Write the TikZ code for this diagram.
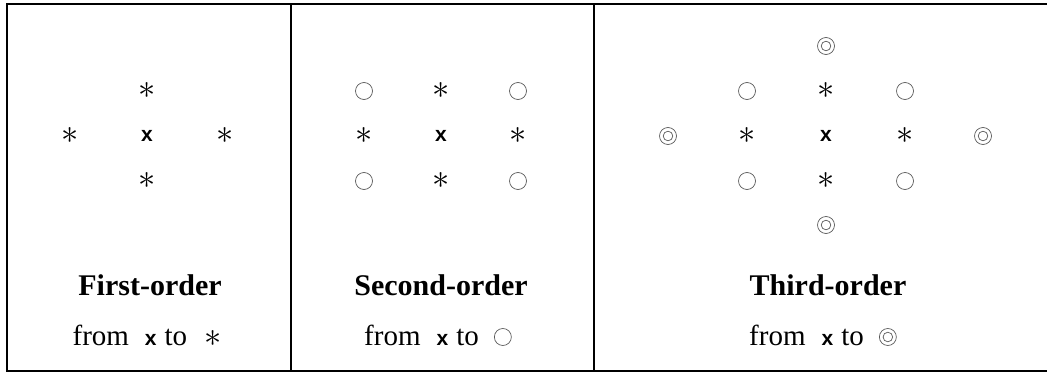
\documentclass[tikz,border=0pt]{standalone}
\usepackage{graphicx}
\usepackage{fontspec}
\setmainfont{Liberation Serif}
\newfontfamily\xsfont{Liberation Sans}
\newcommand{\xglyph}{{\xsfont\bfseries\fontsize{21}{21}\selectfont x}}
\newcommand{\astglyph}{\raisebox{-1.5pt}{\scalebox{1.38}{\fontsize{24}{24}\selectfont$\ast$}}}
\tikzset{
  frame/.style={line width=2pt, line cap=rect},
  sym/.style={inner sep=0pt, outer sep=0pt},
  astsym/.style={sym},
  xsym/.style={sym, font=\xsfont\bfseries\fontsize{21}{21}\selectfont},
  osym/.style={circle, draw=black!65, line width=0.7pt, minimum size=17pt, inner sep=0pt},
  oosym/.style={circle, draw=black!65, line width=0.7pt, minimum size=17pt, inner sep=0pt,
    append after command={\pgfextra{\draw[black!65, line width=0.7pt] (\tikzlastnode.center) circle[radius=4.8pt];}}},
  title/.style={font=\bfseries\fontsize{30}{32}\selectfont, anchor=base, inner sep=0pt},
  sub/.style={font=\fontsize{29}{31}\selectfont, anchor=base, inner sep=0pt},
}
\begin{document}
\begin{tikzpicture}[x=1pt,y=-1pt]
\useasboundingbox (0,0) rectangle (1047,372);
% frame
\coordinate (tl) at (7,3.5);
\coordinate (tr) at (1047,3.5);
\coordinate (bl) at (7,370.5);
\coordinate (br) at (1047,370.5);
\coordinate (d1t) at (291,3.5);
\coordinate (d1b) at (291,370.5);
\coordinate (d2t) at (594,3.5);
\coordinate (d2b) at (594,370.5);
\draw[frame] (tr) -- (tl) -- (bl) -- (br);
\draw[frame] (d1t) -- (d1b);
\draw[frame] (d2t) -- (d2b);

% column 1
\node[xsym] (c1x) at (147,136) {x};
\node[astsym] (c1n) at (147,91) {\astglyph};
\node[astsym] (c1s) at (147,181) {\astglyph};
\node[astsym] (c1w) at (70,136) {\astglyph};
\node[astsym] (c1e) at (225,136) {\astglyph};
\node[title] (t1) at (150,295) {First-order};
\node[sub] (s1) at (147,345) {from\hspace{16pt}\xglyph\hspace{8pt}to\hspace{17pt}\astglyph};

% column 2
\node[xsym] (c2x) at (441,136) {x};
\node[astsym] (c2n) at (441,91) {\astglyph};
\node[astsym] (c2s) at (441,181) {\astglyph};
\node[astsym] (c2w) at (364,136) {\astglyph};
\node[astsym] (c2e) at (518,136) {\astglyph};
\node[osym] (c2nw) at (364,91) {};
\node[osym] (c2ne) at (518,91) {};
\node[osym] (c2sw) at (364,181) {};
\node[osym] (c2se) at (518,181) {};
\node[title] (t2) at (441,295) {Second-order};
\node[sub, anchor=base west] (s2) at (364,345) {from\hspace{16pt}\xglyph\hspace{8pt}to};
\node[osym, anchor=west] (s2o) at ([xshift=15pt,yshift=8pt]s2.base east) {};

% column 3
\node[xsym] (c3x) at (826,136) {x};
\node[astsym] (c3n) at (826,91) {\astglyph};
\node[astsym] (c3s) at (826,181) {\astglyph};
\node[astsym] (c3w) at (747,136) {\astglyph};
\node[astsym] (c3e) at (905,136) {\astglyph};
\node[osym] (c3nw) at (747,91) {};
\node[osym] (c3ne) at (905,91) {};
\node[osym] (c3sw) at (747,181) {};
\node[osym] (c3se) at (905,181) {};
\node[oosym] (c3nn) at (826,46) {};
\node[oosym] (c3ss) at (826,225) {};
\node[oosym] (c3ww) at (668,136) {};
\node[oosym] (c3ee) at (983,136) {};
\node[title] (t3) at (828,295) {Third-order};
\node[sub, anchor=base west] (s3) at (749,345) {from\hspace{16pt}\xglyph\hspace{8pt}to};
\node[oosym, anchor=west] (s3o) at ([xshift=15pt,yshift=8pt]s3.base east) {};
\end{tikzpicture}
\end{document}
